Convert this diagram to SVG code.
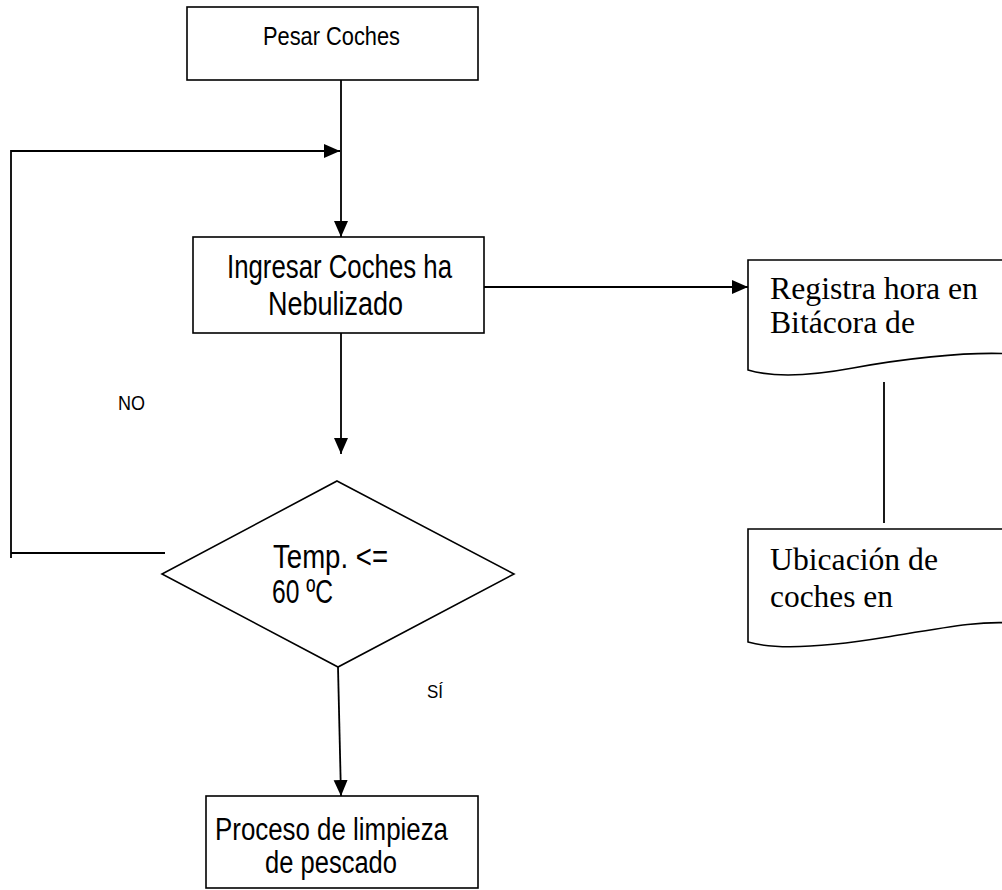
<svg xmlns="http://www.w3.org/2000/svg" width="1002" height="890" viewBox="0 0 1002 890">
  <style>
    .box { fill: #ffffff; stroke: #000000; stroke-width: 1.6; }
    .doc { fill: #ffffff; stroke: #000000; stroke-width: 1.6; }
    .link { fill: none; stroke: #000000; stroke-width: 1.8; }
    .sans { font-family: "Liberation Sans", Arial, sans-serif; fill: #000000; }
    .serif { font-family: "Liberation Serif", "Times New Roman", serif; fill: #000000; }
  </style>
  <defs>
    <marker id="arrow" markerUnits="userSpaceOnUse" markerWidth="17" markerHeight="15" refX="16" refY="7" orient="auto">
      <path d="M0,0 L16,7 L0,14 Z" fill="#000000"/>
    </marker>
  </defs>

  <rect width="1002" height="890" fill="#ffffff"/>

  <!-- connectors -->
  <g id="connectors">
    <path class="link" d="M341,80 V237" marker-end="url(#arrow)"/>
    <path class="link" d="M11,558 V151 H340" marker-end="url(#arrow)"/>
    <path class="link" d="M165,553 H11"/>
    <path class="link" d="M484,287 H748" marker-end="url(#arrow)"/>
    <path class="link" d="M341,333 V454" marker-end="url(#arrow)"/>
    <path class="link" d="M338,667 L341,796" marker-end="url(#arrow)"/>
    <path class="link" d="M884,382 V523"/>
  </g>

  <!-- process: weigh carts -->
  <g id="pesar">
    <rect class="box" x="187" y="7" width="291" height="73"/>
    <text class="sans" x="263" y="45" font-size="26" textLength="137" lengthAdjust="spacingAndGlyphs">Pesar Coches</text>
  </g>

  <!-- process: load carts -->
  <g id="ingresar">
    <rect class="box" x="193" y="237" width="291" height="96"/>
    <text class="sans" x="227" y="278" font-size="33" textLength="225" lengthAdjust="spacingAndGlyphs">Ingresar Coches ha</text>
    <text class="sans" x="268" y="315" font-size="33" textLength="135" lengthAdjust="spacingAndGlyphs">Nebulizado</text>
  </g>

  <!-- decision: temperature -->
  <g id="decision">
    <polygon class="box" points="337,481 514,574 338,667 162,574"/>
    <text class="sans" x="273" y="568" font-size="33" textLength="115" lengthAdjust="spacingAndGlyphs">Temp.  &lt;=</text>
    <text class="sans" x="272" y="603" font-size="33" textLength="61" lengthAdjust="spacingAndGlyphs">60 ºC</text>
  </g>

  <!-- branch labels -->
  <g id="labels">
    <text class="sans" x="118" y="410" font-size="20" textLength="27" lengthAdjust="spacingAndGlyphs">NO</text>
    <text class="sans" x="427" y="698" font-size="18" textLength="16" lengthAdjust="spacingAndGlyphs">SÍ</text>
  </g>

  <!-- process: cleaning -->
  <g id="proceso">
    <rect class="box" x="206" y="796" width="272" height="92"/>
    <text class="sans" x="215" y="840" font-size="31" textLength="233" lengthAdjust="spacingAndGlyphs">Proceso de limpieza</text>
    <text class="sans" x="265" y="873" font-size="31" textLength="132" lengthAdjust="spacingAndGlyphs">de pescado</text>
  </g>

  <!-- document: log -->
  <g id="bitacora">
    <path class="doc" d="M1012,260 H748 V370 C775,378 810,376 853,368 S965,351 1012,354"/>
    <text class="serif" x="770" y="299" font-size="31" textLength="208" lengthAdjust="spacingAndGlyphs">Registra hora en</text>
    <text class="serif" x="770" y="333" font-size="31" textLength="145" lengthAdjust="spacingAndGlyphs">Bitácora de</text>
  </g>

  <!-- document: cart location -->
  <g id="ubicacion">
    <path class="doc" d="M1012,529 H748 V642 C775,650 820,648 887,637 S980,621 1012,623"/>
    <text class="serif" x="770" y="570" font-size="31" textLength="168" lengthAdjust="spacingAndGlyphs">Ubicación de</text>
    <text class="serif" x="770" y="607" font-size="31" textLength="123" lengthAdjust="spacingAndGlyphs">coches en</text>
  </g>
</svg>
